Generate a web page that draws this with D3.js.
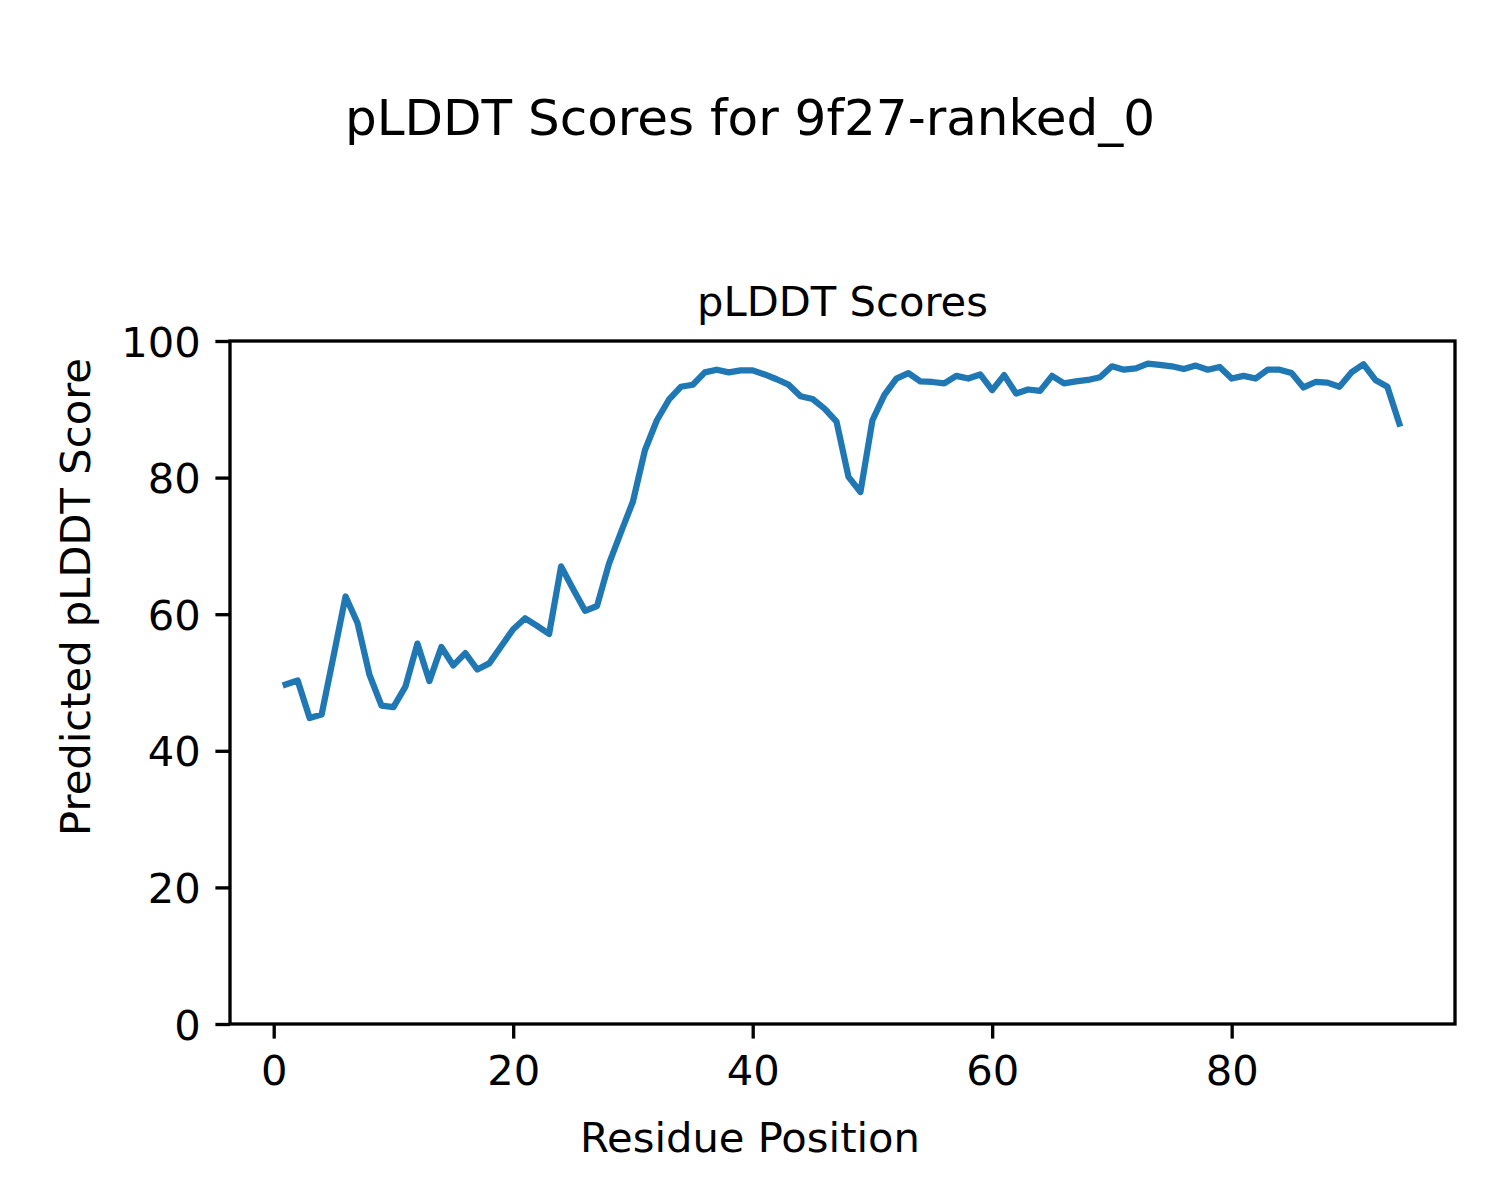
<!DOCTYPE html>
<html>
<head>
<meta charset="utf-8">
<script src="https://cdn.jsdelivr.net/npm/d3@7"></script>
<style>
  html, body { margin: 0; padding: 0; background: #ffffff; }
  svg { display: block; }
  text { font-family: "DejaVu Sans", sans-serif; fill: #000; }
</style>
</head>
<body>
<svg id="chart" width="1500" height="1200"></svg>
<script>
// ---- Data ----
const residues = d3.range(1, 95); // residue positions 1..94
const plddt = [
  49.7, 50.3, 44.8, 45.3, 53.9, 62.6, 58.7, 51.1, 46.6, 46.4,
  49.4, 55.7, 50.2, 55.2, 52.5, 54.3, 51.9, 52.8, 55.3, 57.8,
  59.4, 58.3, 57.1, 67.0, 63.7, 60.5, 61.2, 67.4, 72.0, 76.5,
  84.0, 88.4, 91.4, 93.3, 93.6, 95.4, 95.8, 95.4, 95.7, 95.7,
  95.1, 94.4, 93.6, 91.9, 91.5, 90.1, 88.2, 80.1, 77.9, 88.4,
  92.1, 94.5, 95.3, 94.1, 94.0, 93.8, 94.9, 94.5, 95.1, 92.8,
  95.0, 92.3, 92.9, 92.7, 94.9, 93.8, 94.1, 94.3, 94.7, 96.3,
  95.8, 96.0, 96.7, 96.5, 96.3, 95.9, 96.4, 95.8, 96.2, 94.5,
  94.9, 94.5, 95.8, 95.8, 95.3, 93.2, 94.0, 93.9, 93.3, 95.4,
  96.6, 94.3, 93.3, 87.9
];
const xTicks = [0, 20, 40, 60, 80];
const yTicks = [0, 20, 40, 60, 80, 100];
const suptitle = "pLDDT Scores for 9f27-ranked_0";
const axTitle = "pLDDT Scores";
const xLabel = "Residue Position";
const yLabel = "Predicted pLDDT Score";

// ---- Layout ----
const L = 230, R = 1455, T = 341, B = 1024;
const fs = 41.67;
const tickLen = 14.6, tickPad = 14.6, lw = 3.33;

const svg = d3.select("#chart");

const xMin = d3.min(residues), xMax = d3.max(residues);
const margin = (xMax - xMin) * 0.05;
const x = d3.scaleLinear().domain([xMin - margin, xMax + margin]).range([L, R]);
const y = d3.scaleLinear().domain([0, 100]).range([B, T]);

// Line
const line = d3.line().x((d, i) => x(residues[i])).y(d => y(d));
svg.append("path")
  .datum(plddt)
  .attr("d", line)
  .attr("fill", "none")
  .attr("stroke", "#1f77b4")
  .attr("stroke-width", 6.25)
  .attr("stroke-linejoin", "round")
  .attr("stroke-linecap", "square");

// Axes via d3
const xAxis = d3.axisBottom(x).tickValues(xTicks).tickSize(tickLen).tickPadding(tickPad).tickFormat(d3.format("d"));
const yAxis = d3.axisLeft(y).tickValues(yTicks).tickSize(tickLen).tickPadding(tickPad).tickFormat(d3.format("d"));

const gx = svg.append("g").attr("transform", `translate(0,${B})`).call(xAxis);
const gy = svg.append("g").attr("transform", `translate(${L},0)`).call(yAxis);
[gx, gy].forEach(g => {
  g.select(".domain").remove();
  g.selectAll(".tick line").attr("stroke", "#000").attr("stroke-width", lw);
  g.selectAll(".tick text")
    .attr("font-family", "DejaVu Sans, sans-serif")
    .attr("font-size", fs)
    .attr("fill", "#000");
});
gx.selectAll(".tick text").attr("dy", "0.76em");
gy.selectAll(".tick text").attr("dy", "0.36em");

// Spines
svg.append("rect")
  .attr("x", L).attr("y", T)
  .attr("width", R - L).attr("height", B - T)
  .attr("fill", "none")
  .attr("stroke", "#000")
  .attr("stroke-width", lw)
  .attr("stroke-linejoin", "miter");

// Titles & labels
svg.append("text")
  .attr("x", 750).attr("y", 135)
  .attr("text-anchor", "middle")
  .attr("font-size", 50)
  .text(suptitle);

svg.append("text")
  .attr("x", (L + R) / 2).attr("y", 316)
  .attr("text-anchor", "middle")
  .attr("font-size", fs)
  .text(axTitle);

svg.append("text")
  .attr("x", (L + R) / 2 - 92.5).attr("y", 1152)
  .attr("text-anchor", "middle")
  .attr("font-size", fs)
  .text(xLabel);

svg.append("text")
  .attr("transform", `translate(90,597) rotate(-90)`)
  .attr("text-anchor", "middle")
  .attr("font-size", fs)
  .text(yLabel);
</script>
</body>
</html>
